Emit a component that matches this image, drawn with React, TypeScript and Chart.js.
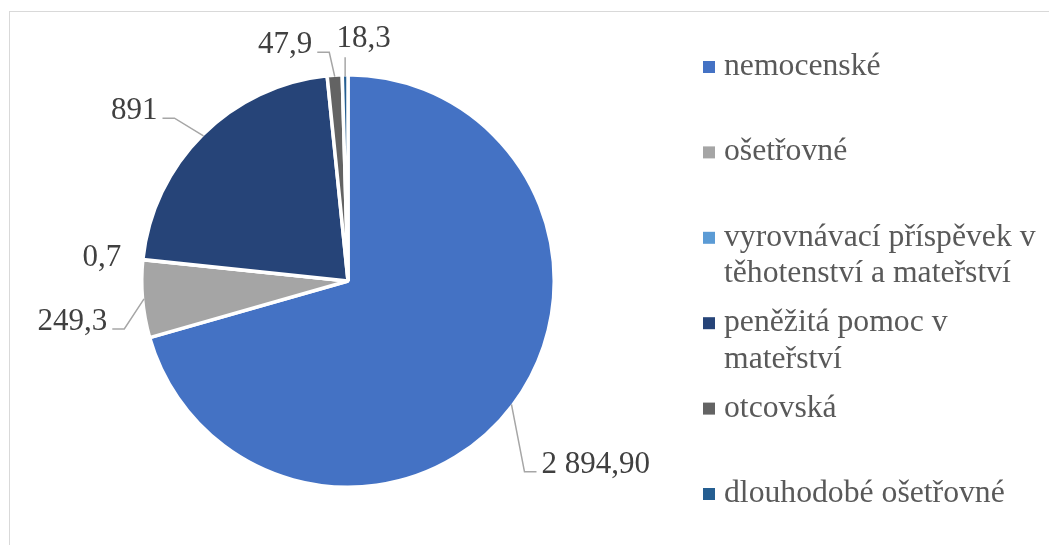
import React, { useEffect, useRef } from "react";
import { Chart, registerables } from "chart.js";

Chart.register(...registerables);

// ---- data ----
const categories = [
  "nemocenské",
  "ošetřovné",
  "vyrovnávací příspěvek v těhotenství a mateřství",
  "peněžitá pomoc v mateřství",
  "otcovská",
  "dlouhodobé ošetřovné",
];
const values = [2894.9, 249.3, 0.7, 891, 47.9, 18.3];
const valueLabels = ["2 894,90", "249,3", "0,7", "891", "47,9", "18,3"];
const colors = ["#4472C4", "#A5A5A5", "#5B9BD5", "#264478", "#636363", "#255E91"];

// ---- label layout (text centre, in pie-radius units from the pie centre) ----
const labelOffsets: [number, number][] = [
  [1.21, 0.888],
  [-1.346, 0.19],
  [-1.202, -0.122],
  [-1.044, -0.839],
  [-0.307, -1.161],
  [0.076, -1.19],
];
const showLeader = [true, true, false, true, true, true];

const SERIF = '"Liberation Serif", "Times New Roman", serif';

function wrapText(ctx: CanvasRenderingContext2D, text: string, maxW: number): string[] {
  const words = text.split(" ");
  const lines: string[] = [];
  let cur = "";
  for (const w of words) {
    const test = cur ? cur + " " + w : w;
    if (cur && ctx.measureText(test).width > maxW) {
      lines.push(cur);
      cur = w;
    } else cur = test;
  }
  if (cur) lines.push(cur);
  return lines;
}

const overlayPlugin = {
  id: "overlay",
  afterDraw(chart: any) {
    const ctx: CanvasRenderingContext2D = chart.ctx;
    const meta = chart.getDatasetMeta(0);
    ctx.save();

    // outer frame
    ctx.strokeStyle = "#D9D9D9";
    ctx.lineWidth = 1;
    ctx.strokeRect(9.5, 11.5, chart.width + 20, chart.height + 20);

    // data labels
    const LF = 31;
    ctx.font = `${LF}px ${SERIF}`;
    ctx.textAlign = "left";
    ctx.textBaseline = "alphabetic";
    meta.data.forEach((arc: any, i: number) => {
      const p = arc.getProps(["x", "y", "startAngle", "endAngle", "outerRadius"], true);
      const r = p.outerRadius - 1.5;
      const mid = (p.startAngle + p.endAngle) / 2;
      const px = p.x + Math.cos(mid) * r;
      const py = p.y + Math.sin(mid) * r;
      const [ox, oy] = labelOffsets[i];
      const cx = p.x + ox * r;
      const cy = p.y + oy * r;
      const txt = valueLabels[i];
      const w = ctx.measureText(txt).width;
      const baseline = cy + 10;
      const left = cx - w / 2;
      const right = cx + w / 2;
      ctx.fillStyle = "#404040";
      ctx.fillText(txt, left, baseline);

      if (showLeader[i]) {
        ctx.strokeStyle = "#A6A6A6";
        ctx.lineWidth = 1.5;
        ctx.beginPath();
        const ly = baseline - 1;
        if (px >= left && px <= right) {
          ctx.moveTo(px, py);
          ctx.lineTo(px, baseline + 10);
        } else if (px > right) {
          ctx.moveTo(right + 5, ly);
          ctx.lineTo(right + 17, ly);
          ctx.lineTo(px, py);
        } else {
          ctx.moveTo(left - 5, ly);
          ctx.lineTo(left - 17, ly);
          ctx.lineTo(px, py);
        }
        ctx.stroke();
      }
    });

    // legend
    const LGF = 31.7;
    ctx.font = `${LGF}px ${SERIF}`;
    const markerX = 703;
    const textX = 724;
    const maxW = chart.width - textX - 4;
    const firstBaseline = 75;
    const step = 85.4;
    const lineH = 36.5;
    categories.forEach((c, i) => {
      const lines = wrapText(ctx, c, maxW);
      const b0 = firstBaseline + i * step;
      ctx.fillStyle = colors[i];
      ctx.fillRect(markerX, b0 - 14, 12, 12);
      ctx.fillStyle = "#595959";
      lines.forEach((ln, j) => ctx.fillText(ln, textX, b0 + j * lineH));
    });

    ctx.restore();
  },
};

export default function App() {
  const ref = useRef<HTMLCanvasElement | null>(null);
  useEffect(() => {
    if (!ref.current) return;
    const chart = new Chart(ref.current, {
      type: "pie",
      data: {
        labels: categories,
        datasets: [
          {
            data: values,
            backgroundColor: colors,
            borderColor: "#FFFFFF",
            borderWidth: 3.5,
          },
        ],
      },
      options: {
        responsive: false,
        animation: false,
        layout: { padding: { left: 140, right: 493, top: 73, bottom: 56 } },
        plugins: {
          legend: { display: false },
          tooltip: { enabled: false },
        },
      },
      plugins: [overlayPlugin],
    });
    return () => chart.destroy();
  }, []);
  return (
    <div style={{ position: "fixed", left: 0, top: 0, width: 1049, height: 545, background: "#fff" }}>
      <canvas ref={ref} width={1049} height={545} />
    </div>
  );
}
